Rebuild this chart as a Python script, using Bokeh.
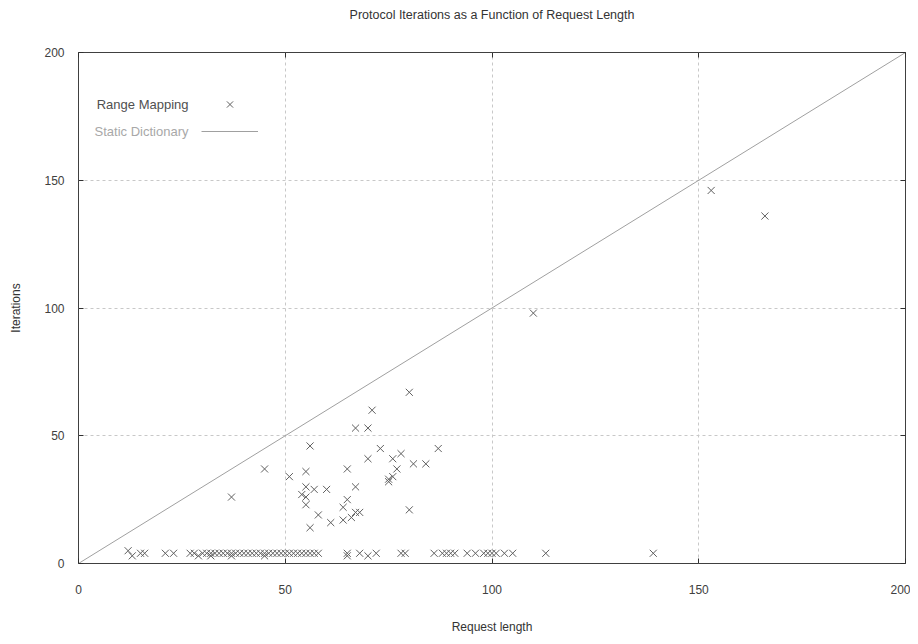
from bokeh.plotting import figure
from bokeh.models import Range1d, FixedTicker, LinearAxis, Legend, LegendItem, Label
from bokeh.embed import file_html
from bokeh.resources import INLINE

chart_title = "Protocol Iterations as a Function of Request Length"
x_label = "Request length"
y_label = "Iterations"
tick_values = [0, 50, 100, 150, 200]
series_names = ["Range Mapping", "Static Dictionary"]

# Range Mapping (points)
range_mapping_x = [166, 153, 110, 80, 71, 67, 70, 56, 73, 87, 78, 70, 76, 81, 84,
                   45, 65, 77, 55, 51, 76, 75, 75, 67, 55, 57, 60, 54, 55, 37,
                   65, 55, 64, 80, 67, 68, 58, 66, 64, 61, 56,
                   12, 13, 15, 16, 21, 23, 27, 28, 29, 30, 31, 32, 32, 33, 34,
                   35, 36, 37, 37, 38, 39, 40, 41, 42, 43, 44, 45, 45, 46, 47,
                   48, 49, 50, 51, 52, 53, 54, 55, 56, 57, 58, 65, 65, 68, 70,
                   72, 78, 79, 86, 88, 89, 90, 91, 94, 96, 98, 99, 100, 101,
                   103, 105, 113, 139]
range_mapping_y = [136, 146, 98, 67, 60, 53, 53, 46, 45, 45, 43, 41, 41, 39, 39,
                   37, 37, 37, 36, 34, 34, 33, 32, 30, 30, 29, 29, 27, 26, 26,
                   25, 23, 22, 21, 20, 20, 19, 18, 17, 16, 14,
                   5, 3, 4, 4, 4, 4, 4, 4, 3, 4, 4, 3, 4, 4, 4,
                   4, 4, 4, 3, 4, 4, 4, 4, 4, 4, 4, 4, 3, 4, 4,
                   4, 4, 4, 4, 4, 4, 4, 4, 4, 4, 4, 3, 4, 4, 3,
                   4, 4, 4, 4, 4, 4, 4, 4, 4, 4, 4, 4, 4, 4,
                   4, 4, 4, 4]

# Static Dictionary (line)
static_x = [0, 200]
static_y = [0, 200]

FONT = "Liberation Sans"

p = figure(width=910, height=636, output_backend="svg", toolbar_location=None,
           title=None,
           x_range=Range1d(0, 200), y_range=Range1d(0, 200),
           min_border_left=78, min_border_right=5, min_border_top=52, min_border_bottom=73)

p.outline_line_color = "#404040"
p.outline_line_width = 1
p.background_fill_color = "white"
p.border_fill_color = "white"

for ax in (p.xaxis[0], p.yaxis[0]):
    ax.ticker = FixedTicker(ticks=tick_values)
    ax.major_tick_in = 5
    ax.major_tick_out = 0
    ax.minor_tick_line_color = None
    ax.axis_line_color = None
    ax.major_tick_line_color = "#303030"
    ax.major_label_text_font = FONT
    ax.major_label_text_font_size = "12px"
    ax.major_label_text_color = "#404040"
    ax.axis_label_text_font = FONT
    ax.axis_label_text_font_size = "12px"
    ax.axis_label_text_font_style = "normal"
    ax.axis_label_text_color = "#333333"

p.xaxis[0].axis_label = x_label
p.yaxis[0].axis_label = y_label
p.xaxis[0].major_label_standoff = 21
p.xaxis[0].axis_label_standoff = 23
p.yaxis[0].major_label_standoff = 14
p.yaxis[0].axis_label_standoff = 18

mirror_axes = {}
for loc in ("above", "right"):
    ax = LinearAxis(ticker=FixedTicker(ticks=tick_values))
    ax.major_tick_in = 5
    ax.major_tick_out = 0
    ax.minor_tick_line_color = None
    ax.axis_line_color = None
    ax.major_tick_line_color = "#303030"
    ax.major_label_text_font_size = "1px"
    ax.major_label_text_color = None
    ax.major_label_standoff = 0
    p.add_layout(ax, loc)
    mirror_axes[loc] = ax

# chart title carried by the top (mirror) axis
top = mirror_axes["above"]
top.axis_label = chart_title
top.axis_label_standoff = 31
top.axis_label_text_font = FONT
top.axis_label_text_font_size = "12.5px"
top.axis_label_text_font_style = "normal"
top.axis_label_text_color = "#333333"

for g in (p.xgrid[0], p.ygrid[0]):
    g.ticker = FixedTicker(ticks=tick_values)
    g.grid_line_color = "#c8c8c8"
    g.grid_line_dash = "3 3"
    g.grid_line_width = 1

line_r = p.line(static_x, static_y, line_color="#a0a0a0", line_width=1)
pts_r = p.scatter(range_mapping_x, range_mapping_y, marker="x", size=10,
                  line_color="#606060", line_width=1)

legend = Legend(items=[LegendItem(label=" ", renderers=[pts_r]),
                       LegendItem(label=" ", renderers=[line_r])],
                location=(123, 421), glyph_width=57, glyph_height=22, spacing=5,
                label_width=0, label_standoff=0, padding=0, margin=0,
                background_fill_alpha=0, border_line_alpha=0,
                label_text_font_size="12px")
p.add_layout(legend)

p.add_layout(Label(x=110, y=459, x_units="screen", y_units="screen", text=series_names[0],
                   text_align="right", text_baseline="middle", text_font=FONT,
                   text_font_size="13px", text_color="#505050"))
p.add_layout(Label(x=110, y=432, x_units="screen", y_units="screen", text=series_names[1],
                   text_align="right", text_baseline="middle", text_font=FONT,
                   text_font_size="13px", text_color="#a8a8a8"))

open("out.html", "w").write(file_html(p, INLINE))
